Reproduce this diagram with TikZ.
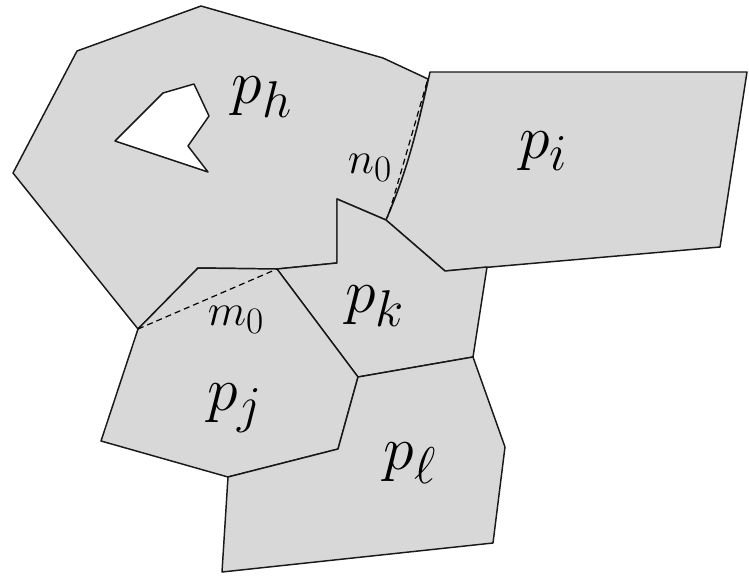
\documentclass[tikz,border=0pt]{standalone}
\tikzset{every picture/.style={line width=0.75pt}}
\tikzset{
cell/.style={draw={rgb, 255:red, 25; green, 25; blue, 25 }, fill={rgb, 255:red, 216; green, 216; blue, 216 }, line width=1.1pt, line join=round},
hole/.style={draw={rgb, 255:red, 25; green, 25; blue, 25 }, fill=white, line width=1.1pt, line join=round},
chord/.style={dash pattern={on 4.5pt off 3pt}, line width=0.9pt},
cell label/.style={inner sep=0.75pt, font=\Huge, scale=1.87},
chord label/.style={inner sep=0.75pt, font=\Huge, scale=1.35}}

\begin{document}
\begin{tikzpicture}[x=0.75pt,y=0.75pt,yscale=-1,xscale=1]
\useasboundingbox (0,0) rectangle (749,586);

% corners shared by the cells
\coordinate (hj) at (138,329);
\coordinate (hjk) at (277,269);
\coordinate (hik) at (386,220);
\coordinate (hi) at (430,72);
\coordinate (jkl) at (358,377);
\coordinate (kl) at (473,357);
\coordinate (jl) at (338,449);

%Shape: Polygon [p_h]
\draw [cell] (201,6) -- (383,58) -- (428,79) .. controls (418,127) and (408,170) .. (hik) -- (337,199) -- (337,263) -- (hjk) -- (198,268) -- (hj) -- (13,173) -- (77,51) -- cycle ;
%Shape: Polygon [hole]
\draw [hole] (115,141) -- (163,93) -- (194,84) -- (209,116) -- (188,146) -- (208,172) -- cycle ;
%Shape: Polygon [p_i]
\draw [cell] (hi) -- (747,72) -- (720,247) -- (445,271) -- (hik) .. controls (408,170) and (419,122) .. (hi) -- cycle ;
%Shape: Polygon [p_k]
\draw [cell] (337,199) -- (hik) -- (445,271) -- (487,267) -- (kl) -- (jkl) -- (hjk) -- (337,263) -- cycle ;
%Shape: Polygon [p_j]
\draw [cell] (hj) -- (198,268) -- (hjk) -- (jkl) -- (jl) -- (228,477) -- (101,441) -- cycle ;
%Shape: Polygon [p_l]
\draw [cell] (jkl) -- (kl) -- (505,447) -- (493,543) -- (222,572) -- (228,477) -- (jl) -- cycle ;

%Straight Lines [n_0]
\coordinate (n0top) at (427,82);
\coordinate (n0bot) at (388,217);
\draw [chord] (n0top) -- (n0bot) ;
%Straight Lines [m_0]
\draw [chord] (hj) -- (hjk) ;

% Text Node
\draw (262,97) node [cell label] (ph) {$p_h$};
% Text Node
\draw (544,151) node [cell label] (pi) {$p_i$};
% Text Node
\draw (375,306) node [cell label] (pk) {$p_k$};
% Text Node
\draw (235,408) node [cell label] (pj) {$p_j$};
% Text Node
\draw (410,463) node [cell label] (pl) {$p_\ell$};
% Text Node
\draw (370,168) node [chord label] (n0) {$n_0$};
% Text Node
\draw (236,320) node [chord label] (m0) {$m_0$};

\end{tikzpicture}
\end{document}
